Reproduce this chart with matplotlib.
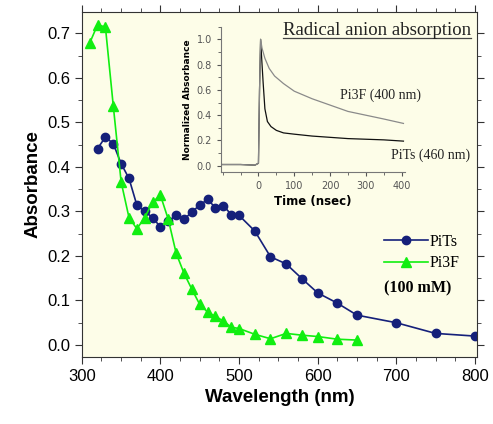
import matplotlib
matplotlib.use('Agg')
import matplotlib.pyplot as plt
from matplotlib.ticker import MultipleLocator, FormatStrFormatter
from matplotlib.lines import Line2D

# Main spectra (wavelength in nm, absorbance)
pits_wl = [320, 330, 340, 350, 360, 370, 380, 390, 400, 410, 420, 430, 440, 450, 460,
           470, 480, 490, 500, 520, 540, 560, 580, 600, 625, 650, 700, 750, 800]
pits_abs = [0.441, 0.467, 0.452, 0.407, 0.374, 0.314, 0.300, 0.286, 0.265, 0.278, 0.291,
            0.282, 0.299, 0.314, 0.327, 0.308, 0.313, 0.293, 0.291, 0.256, 0.198, 0.182,
            0.149, 0.117, 0.094, 0.067, 0.050, 0.026, 0.020]

pi3f_wl = [310, 320, 330, 340, 350, 360, 370, 380, 390, 400, 410, 420, 430, 440, 450,
           460, 470, 480, 490, 500, 520, 540, 560, 580, 600, 625, 650]
pi3f_abs = [0.678, 0.719, 0.714, 0.537, 0.366, 0.286, 0.261, 0.286, 0.321, 0.336, 0.282,
            0.206, 0.161, 0.125, 0.091, 0.074, 0.064, 0.054, 0.040, 0.037, 0.024, 0.014,
            0.026, 0.022, 0.019, 0.013, 0.011]

# Inset transients (time in ns, normalized absorbance)
pits_t = [-100, -50, -10, 0, 3, 6, 9, 13, 18, 25, 35, 50, 70, 100, 150, 200, 250, 300, 350, 405]
pits_n = [0.01, 0.01, 0.005, 0.02, 0.60, 1.0, 0.85, 0.66, 0.45, 0.35, 0.31, 0.28, 0.26,
          0.25, 0.235, 0.225, 0.215, 0.21, 0.205, 0.195]

pi3f_t = [-100, -50, -10, 0, 3, 6, 10, 18, 30, 45, 70, 100, 150, 200, 250, 300, 350, 405]
pi3f_n = [0.01, 0.01, 0.005, 0.02, 0.60, 1.0, 0.93, 0.85, 0.77, 0.71, 0.65, 0.59, 0.53,
          0.48, 0.43, 0.40, 0.37, 0.335]

navy = '#15207a'
green = '#11ee11'
cream = '#fdfde8'

fig = plt.figure(figsize=(4.93, 4.24), dpi=100)
ax = fig.add_axes([0.166, 0.158, 0.802, 0.814])
ax.set_facecolor(cream)

ax.plot(pits_wl, pits_abs, '-o', color=navy, markersize=6, linewidth=1.2, label='PiTs')
ax.plot(pi3f_wl, pi3f_abs, '-^', color=green, markersize=6.5, linewidth=1.2, label='Pi3F')

ax.set_xlim(300, 803)
ax.set_ylim(-0.027, 0.748)
ax.xaxis.set_major_locator(MultipleLocator(100))
ax.xaxis.set_minor_locator(MultipleLocator(25))
ax.yaxis.set_major_locator(MultipleLocator(0.1))
ax.yaxis.set_minor_locator(MultipleLocator(0.05))
ax.yaxis.set_major_formatter(FormatStrFormatter('%.1f'))
ax.tick_params(which='both', direction='out', top=True, right=True,
               labeltop=False, labelright=False, color='#333333')
ax.tick_params(which='major', length=5, labelsize=12)
ax.tick_params(which='minor', length=3)
for lab in ax.get_xticklabels() + ax.get_yticklabels():
    lab.set_family('Liberation Sans')
for s in ax.spines.values():
    s.set_color('#333333')

ax.set_xlabel('Wavelength (nm)', fontsize=13.5, fontweight='bold', family='Liberation Sans')
ax.set_ylabel('Absorbance', fontsize=13.5, fontweight='bold', family='Liberation Sans')

leg = ax.legend(loc='upper left', bbox_to_anchor=(0.745, 0.38), frameon=False,
                prop={'family': 'Liberation Serif', 'size': 11.5},
                handlelength=2.7, handletextpad=0.1, borderpad=0, labelspacing=0.35)
ax.text(0.765, 0.2, '(100 mM)', transform=ax.transAxes, family='Liberation Serif',
        fontsize=11.5, fontweight='bold', va='center', ha='left')

# Inset
ins = fig.add_axes([0.448, 0.595, 0.374, 0.342])
ins.set_facecolor('none')
ins.plot(pits_t, pits_n, color='#111111', linewidth=0.9)
ins.plot(pi3f_t, pi3f_n, color='#8a8a8a', linewidth=0.9)
ins.set_xlim(-105, 410)
ins.set_ylim(-0.047, 1.1)
ins.spines['top'].set_visible(False)
ins.spines['right'].set_visible(False)
ins.xaxis.set_minor_locator(MultipleLocator(50))
ins.set_xticks([0, 100, 200, 300, 400])
ins.yaxis.set_major_locator(MultipleLocator(0.2))
ins.yaxis.set_minor_locator(MultipleLocator(0.1))
ins.yaxis.set_major_formatter(FormatStrFormatter('%.1f'))
ins.tick_params(which='both', direction='out', labelsize=7, colors='#555555')
ins.tick_params(which='major', length=3)
ins.tick_params(which='minor', length=2)
for s in ins.spines.values():
    s.set_color('#777777')
ins.set_xlabel('Time (nsec)', fontsize=8.5, fontweight='bold', labelpad=3)
ins.set_ylabel('Normalized Absorbance', fontsize=6.5, fontweight='bold', labelpad=3)

fig.text(0.771, 0.776, 'Pi3F (400 nm)', family='Liberation Serif', fontsize=10,
         color='#222222', ha='center', va='center')
fig.text(0.953, 0.634, 'PiTs (460 nm)', family='Liberation Serif', fontsize=10,
         color='#222222', ha='right', va='center')
title = fig.text(0.955, 0.928, 'Radical anion absorption', family='Liberation Serif',
                 fontsize=13.5, color='#222222', ha='right', va='center')

# underline the inset title
fig.canvas.draw()
bb = title.get_window_extent().transformed(fig.transFigure.inverted())
fig.add_artist(Line2D([bb.x0, bb.x1], [bb.y0 + 0.003, bb.y0 + 0.003],
                      color='#444444', linewidth=0.9, transform=fig.transFigure))

fig.savefig('out.png', dpi=100)
